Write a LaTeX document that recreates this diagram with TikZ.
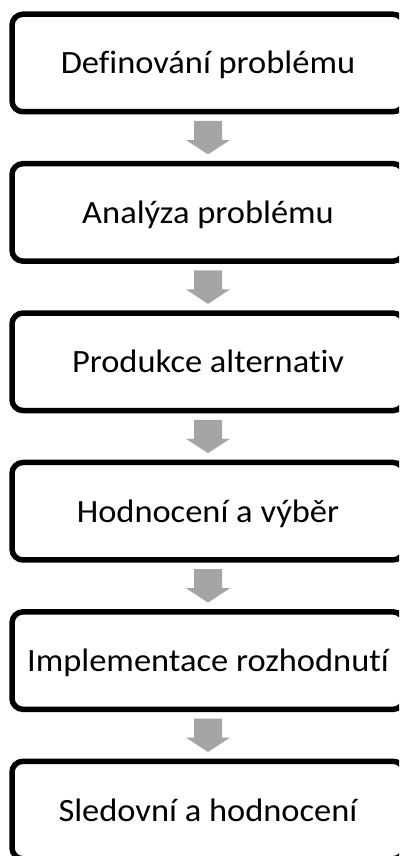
\documentclass[tikz,border=0pt]{standalone}
\usepackage{fontspec}
\setmainfont{Carlito}[FakeStretch=1.06, RawFeature=-liga]
\usetikzlibrary{calc}
\definecolor{arrowgray}{HTML}{A5A5A5}
\tikzset{
  stepbox/.style={draw=black, line width=5.5pt, rounded corners=11pt, fill=white,
    minimum width=392pt, minimum height=97.5pt, inner sep=0pt},
  steptext/.style={anchor=base, text=black, inner sep=0pt,
    font=\fontsize{32.5pt}{38pt}\selectfont},
}
\begin{document}
\begin{tikzpicture}[x=1pt,y=1pt]
  \useasboundingbox (0,0) rectangle (399,-856);
  \clip (0,0) rectangle (399,-856);
  % process steps, top to bottom
  \foreach \i/\txt in {1/Definování problému, 2/Analýza problému, 3/Produkce alternativ,
      4/Hodnocení a výběr, 5/Implementace rozhodnutí, 6/Sledovní a hodnocení} {
    \node[stepbox] (b\i) at (208, {-63 - 149.4*(\i-1)}) {};
    \node[steptext] (t\i) at ($(b\i.center)+(0,-11)$) {\txt};
  }
  % block arrows between consecutive steps
  \foreach \i [evaluate=\i as \j using int(\i+1)] in {1,...,5} {
    \fill[arrowgray]
      ($(b\i.south)+(-14,-6.5)$) -- ($(b\i.south)+(14,-6.5)$)
      -- ($(b\i.south)+(14,-25.5)$) -- ($(b\i.south)+(22,-25.5)$)
      -- ($(b\j.north)+(0,6.5)$)
      -- ($(b\i.south)+(-22,-25.5)$) -- ($(b\i.south)+(-14,-25.5)$) -- cycle;
  }
\end{tikzpicture}
\end{document}
